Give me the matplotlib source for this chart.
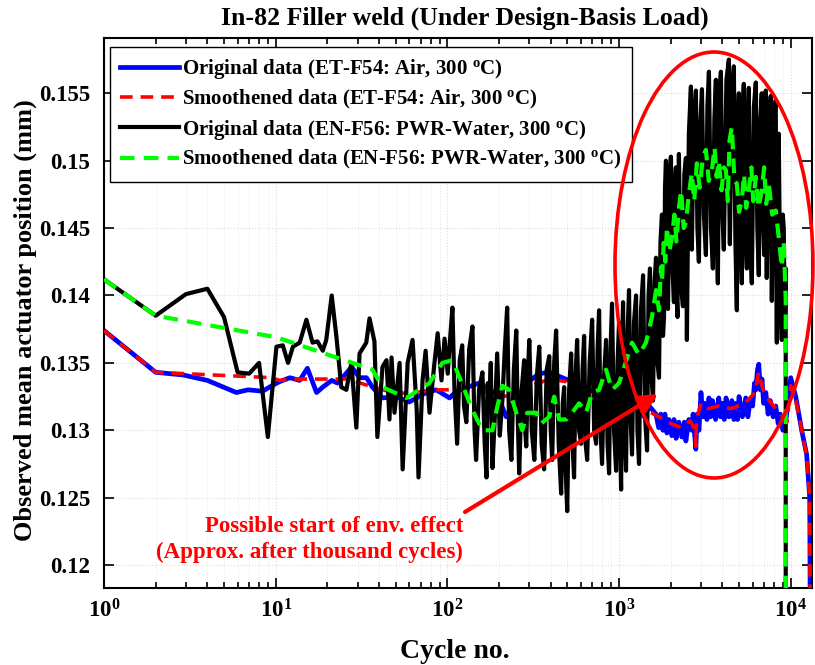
import matplotlib
matplotlib.use('Agg')
import matplotlib.pyplot as plt
from matplotlib.patches import Ellipse
from matplotlib.ticker import LogLocator, LogFormatterMathtext, NullFormatter, FixedLocator

plt.rcParams['font.family'] = ['Liberation Serif', 'DejaVu Serif']
plt.rcParams['font.weight'] = 'bold'
plt.rcParams['mathtext.fontset'] = 'custom'
plt.rcParams['mathtext.rm'] = 'Liberation Serif:bold'
plt.rcParams['mathtext.bf'] = 'Liberation Serif:bold'
plt.rcParams['mathtext.it'] = 'Liberation Serif:bold:italic'

# ---------------- data ----------------
air_cyc = [1, 2, 2.9, 4, 5.9, 6.9, 8.4, 9.2, 10.5, 12.1, 13.8, 15.3, 17.3, 18.8, 21.2, 22.9,
           24.5, 27.7, 30.8, 33.8, 36.6, 41.9, 50.5, 60, 75.5, 86, 103, 113, 153, 175, 195,
           220, 252, 288, 343, 392, 448, 533, 670, 875, 1070, 1310, 1400, 1500, 1640, 1700,
           1750, 1800, 1850, 1900, 1950, 2030, 2090, 2150, 2230, 2320, 2400, 2450, 2550, 2650,
           2700, 2750, 2800, 2850, 2920, 3000, 3080, 3150, 3250, 3340, 3420, 3500, 3650, 3810,
           3900, 4000, 4100, 4200, 4370, 4540, 4670, 4800, 4900, 5000, 5230, 5470, 5630, 5800,
           6000, 6150, 6260, 6400, 6515, 6650, 6800, 6950, 7160, 7380, 7600, 7900, 8180, 8450,
           8700, 9000, 9350, 10000, 10690, 11580, 12380, 12900, 13000]
air_pos = [0.1374, 0.1343, 0.1341, 0.1337, 0.1328, 0.1330, 0.1329, 0.1332, 0.1336, 0.1339,
           0.1337, 0.1346, 0.1328, 0.1332, 0.1337, 0.1335, 0.1339, 0.1347, 0.1339, 0.1339,
           0.1332, 0.1324, 0.1325, 0.1321, 0.1328, 0.1330, 0.1324, 0.1329, 0.1335, 0.1330,
           0.1327, 0.1310, 0.1322, 0.1335, 0.1342, 0.1343, 0.1340, 0.1336, 0.1330, 0.1325,
           0.1322, 0.1318, 0.1310, 0.1318, 0.1312, 0.1302, 0.1312, 0.1300, 0.1312, 0.1298,
           0.1308, 0.1296, 0.1308, 0.1294, 0.1306, 0.1295, 0.1306, 0.1292, 0.1308, 0.1300,
           0.1312, 0.1298, 0.1286, 0.1312, 0.1300, 0.1328, 0.1310, 0.1320, 0.1308, 0.1324,
           0.1310, 0.1322, 0.1308, 0.1324, 0.1310, 0.1320, 0.1308, 0.1324, 0.1310, 0.1322,
           0.1308, 0.1320, 0.1308, 0.1325, 0.1310, 0.1324, 0.1310, 0.1322, 0.1318, 0.1335,
           0.1330, 0.1345, 0.1349, 0.1330, 0.1338, 0.1320, 0.1328, 0.1312, 0.1322, 0.1310,
           0.1318, 0.1305, 0.1312, 0.1300, 0.1306, 0.1339, 0.1325, 0.1300, 0.1282, 0.1250,
           0.1150]

air_s_cyc = [1, 2, 9.5, 10.5, 13, 18, 26, 35, 45, 60, 80, 100, 150, 200, 250, 300, 400, 550,
             800, 1100, 1400, 1700, 2000, 2300, 2600, 2780, 2800, 2830, 3000, 3300, 3800, 4500,
             5400, 6200, 6500, 6900, 7500, 8200, 9000, 9500, 10000, 10700, 11600, 12400, 12900,
             13000]
air_s_pos = [0.1374, 0.1343, 0.1339, 0.1337, 0.1338, 0.1338, 0.1338, 0.1333, 0.1329, 0.1327,
             0.1330, 0.1330, 0.1331, 0.1325, 0.1326, 0.1333, 0.1338, 0.1335, 0.1328, 0.1322,
             0.1316, 0.1310, 0.1305, 0.1302, 0.1307, 0.1300, 0.1288, 0.1308, 0.1320, 0.1316,
             0.1318, 0.1316, 0.1320, 0.1328, 0.1343, 0.1330, 0.1322, 0.1316, 0.1310, 0.1306,
             0.1333, 0.1322, 0.1300, 0.1280, 0.1250, 0.1150]

water_cyc = [1, 2, 3, 4, 5, 6, 7, 8, 9, 10.1, 11, 11.8, 12.6, 13.8, 15.1, 16.4, 17.5, 18.8,
             19.7, 21.2, 22.6, 24.1, 25.8, 27.6, 29.5, 30.8, 33.7, 35.2, 37.6, 39.1, 41.9,
             44.2, 46, 47.3, 49.2, 52.7, 54.9, 58.7, 62.7, 66.3, 67.9, 71.7, 74.7, 78.7, 84.1,
             87.8, 92.4, 96.3, 100.5,
             104, 107, 110, 114, 118, 122, 125, 129, 134, 140, 144, 147, 153, 160, 165, 169,
             172, 175, 179, 183, 189, 195, 202, 209, 216, 223, 229, 236, 244, 252, 257, 262,
             271, 280, 284, 288, 294, 300, 310, 321, 332, 343, 354, 366, 379, 392, 400, 408,
             419, 430, 445, 460, 470, 479, 489, 499, 512, 526, 536, 547, 558, 570, 585, 601,
             613, 626, 639, 652, 674, 697, 716, 735, 750, 765, 780, 796, 818, 840, 857, 875,
             892, 910, 935, 961, 980, 1000,
             1014, 1028, 1041, 1055, 1076, 1098, 1120, 1143, 1166, 1190, 1222, 1256, 1280,
             1307, 1343, 1380, 1417, 1456, 1485, 1514, 1545, 1577, 1610, 1642, 1675, 1709,
             1743, 1778, 1803, 1828, 1852, 1876, 1902, 1928, 1966, 2005, 2046, 2088, 2115,
             2143, 2166, 2190, 2210, 2232, 2290, 2355, 2400, 2452, 2468, 2484, 2550, 2622,
             2640, 2653, 2730, 2803, 2860, 2917, 2980, 3040, 3120, 3206, 3270, 3338, 3430,
             3520, 3590, 3664, 3710, 3763, 3840, 3920, 4000, 4077, 4220, 4362, 4390, 4420,
             4540, 4663, 4760, 4854, 4920, 4985, 5090, 5190, 5260, 5329, 5440, 5550, 5620,
             5697, 5810, 5933, 6100, 6262, 6390, 6515, 6650, 6779, 6890, 7000, 7080, 7156,
             7200, 7250, 7450, 7650, 7700, 7760, 7970, 8180, 8240, 8300, 8410, 8515, 8690,
             8870, 8990, 9106, 9230, 9350, 9355]
water_pos = [0.1412, 0.1385, 0.1401, 0.1405, 0.1384, 0.1343, 0.1342, 0.1350, 0.1295, 0.1362,
             0.1363, 0.1350, 0.1362, 0.1365, 0.1382, 0.1365, 0.1366, 0.1359, 0.1367, 0.1400,
             0.1369, 0.1332, 0.1330, 0.1350, 0.1302, 0.1357, 0.1365, 0.1383, 0.1366, 0.1295,
             0.1347, 0.1352, 0.1308, 0.1354, 0.1313, 0.1350, 0.1271, 0.1350, 0.1367, 0.1315,
             0.1265, 0.1337, 0.1359, 0.1313, 0.1350, 0.1372, 0.1337, 0.1368, 0.1342,
             0.1370, 0.1391, 0.1330, 0.1290, 0.1352, 0.1363, 0.1318, 0.1306, 0.1360, 0.1377,
             0.1300, 0.1278, 0.1330, 0.1343, 0.1290, 0.1265, 0.1335, 0.1317, 0.1350, 0.1272,
             0.1310, 0.1357, 0.1296, 0.1322, 0.1360, 0.1391, 0.1300, 0.1278, 0.1345, 0.1374,
             0.1310, 0.1268, 0.1330, 0.1352, 0.1300, 0.1288, 0.1340, 0.1367, 0.1300, 0.1278,
             0.1340, 0.1362, 0.1290, 0.1271, 0.1345, 0.1355, 0.1300, 0.1278, 0.1350, 0.1374,
             0.1290, 0.1253, 0.1320, 0.1332, 0.1270, 0.1240, 0.1330, 0.1357, 0.1290, 0.1265,
             0.1340, 0.1367, 0.1300, 0.1290, 0.1345, 0.1370, 0.1290, 0.1278, 0.1350, 0.1382,
             0.1300, 0.1290, 0.1360, 0.1389, 0.1300, 0.1275, 0.1340, 0.1367, 0.1290, 0.1268,
             0.1360, 0.1394, 0.1300, 0.1270, 0.1350, 0.1380,
             0.1290, 0.1256, 0.1360, 0.1395, 0.1300, 0.1270, 0.1370, 0.1404, 0.1310, 0.1282,
             0.1380, 0.1400, 0.1300, 0.1275, 0.1390, 0.1415, 0.1310, 0.1285, 0.1400, 0.1420,
             0.1340, 0.1322, 0.1410, 0.1428, 0.1350, 0.1339, 0.1440, 0.1460, 0.1370, 0.1384,
             0.1480, 0.1500, 0.1400, 0.1390, 0.1490, 0.1503, 0.1420, 0.1395, 0.1480, 0.1495,
             0.1400, 0.1384, 0.1470, 0.1505, 0.1410, 0.1392, 0.1490, 0.1502, 0.1420, 0.1367,
             0.1520, 0.1555, 0.1460, 0.1434, 0.1530, 0.1552, 0.1450, 0.1425, 0.1530, 0.1553,
             0.1460, 0.1430, 0.1540, 0.1566, 0.1450, 0.1420, 0.1530, 0.1560, 0.1440, 0.1409,
             0.1550, 0.1566, 0.1460, 0.1434, 0.1560, 0.1575, 0.1470, 0.1438, 0.1550, 0.1570,
             0.1440, 0.1389, 0.1530, 0.1550, 0.1450, 0.1409, 0.1540, 0.1557, 0.1450, 0.1420,
             0.1530, 0.1554, 0.1440, 0.1409, 0.1540, 0.1558, 0.1450, 0.1415, 0.1530, 0.1550,
             0.1460, 0.1430, 0.1540, 0.1552, 0.1450, 0.1413, 0.1530, 0.1548, 0.1440, 0.1396,
             0.1530, 0.1545, 0.1420, 0.1365, 0.1500, 0.1520, 0.1400, 0.1367, 0.1460, 0.1450,
             0.1380, 0.1420, 0.1100]

water_s_cyc = [1, 2, 10.1, 36.6, 41.9, 57.8, 78.6, 93.6, 107, 117, 140, 160, 183, 195, 209,
               229, 252, 273, 292, 329, 352, 392, 419, 448, 492, 533, 585, 643, 697, 765, 840,
               910, 1000, 1190, 1307, 1435, 1555, 1642, 1709, 1754, 1778, 1820, 1860, 1901,
               1960, 2033, 2100, 2160, 2232, 2300, 2380, 2452, 2550, 2653, 2740, 2838, 2950,
               3080, 3206, 3330, 3474, 3600, 3700, 3813, 3950, 4080, 4190, 4300, 4400, 4538,
               4700, 4854, 5000, 5190, 5350, 5500, 5697, 5900, 6050, 6262, 6500, 6779, 7000,
               7200, 7447, 7800, 8180, 8515, 8870, 9100, 9350, 9355]
water_s_pos = [0.1412, 0.1385, 0.1369, 0.1345, 0.1332, 0.1324, 0.1335, 0.1350, 0.1352,
               0.1340, 0.1315, 0.1300, 0.1300, 0.1317, 0.1333, 0.1330, 0.1313, 0.1300, 0.1313,
               0.1313, 0.1305, 0.1310, 0.1325, 0.1308, 0.1308, 0.1313, 0.1320, 0.1313, 0.1328,
               0.1330, 0.1345, 0.1330, 0.1335, 0.1365, 0.1356, 0.1365, 0.1384, 0.1404, 0.1389,
               0.1421, 0.1410, 0.1439, 0.1425, 0.1451, 0.1432, 0.1443, 0.1460, 0.1440, 0.1465,
               0.1478, 0.1450, 0.1454, 0.1475, 0.1491, 0.1470, 0.1498, 0.1480, 0.1503, 0.1508,
               0.1485, 0.1493, 0.1510, 0.1488, 0.1500, 0.1478, 0.1495, 0.1493, 0.1470, 0.1515,
               0.1525, 0.1485, 0.1483, 0.1462, 0.1471, 0.1490, 0.1465, 0.1478, 0.1495, 0.1470,
               0.1488, 0.1465, 0.1478, 0.1495, 0.1468, 0.1483, 0.1460, 0.1463, 0.1443, 0.1421,
               0.1440, 0.1397, 0.1100]

ytick_vals = [0.12, 0.125, 0.13, 0.135, 0.14, 0.145, 0.15, 0.155]
ytick_labels = ['0.12', '0.125', '0.13', '0.135', '0.14', '0.145', '0.15', '0.155']

labels = ['Original data (ET-F54: Air, 300 $^\\mathdefault{o}$C)',
          'Smoothened data (ET-F54: Air, 300 $^\\mathdefault{o}$C)',
          'Original data (EN-F56: PWR-Water, 300 $^\\mathdefault{o}$C)',
          'Smoothened data (EN-F56: PWR-Water, 300 $^\\mathdefault{o}$C)']

# ---------------- figure ----------------
W, H = 815, 665
fig = plt.figure(figsize=(W / 100, H / 100), dpi=100)
ax = fig.add_axes([104 / W, 1 - 588 / H, 708 / W, 550 / H])

ax.plot(air_cyc, air_pos, color='#0000ff', lw=3.4, label=labels[0], zorder=2)
ax.plot(air_s_cyc, air_s_pos, color='#ff0000', lw=2.6, ls=(0, (3.5, 2.2)), label=labels[1], zorder=3)
ax.plot(water_cyc, water_pos, color='black', lw=3.0, label=labels[2], zorder=4)
ax.plot(water_s_cyc, water_s_pos, color='#00ff00', lw=3.0, ls=(0, (3.5, 2.2)), label=labels[3], zorder=5)

ax.set_xscale('log')
ax.set_xlim(1, 13300)
ax.set_ylim(0.1183, 0.1591)
ax.xaxis.set_major_locator(LogLocator(base=10, numticks=10))
ax.xaxis.set_minor_locator(LogLocator(base=10, subs=range(2, 10), numticks=20))
ax.xaxis.set_major_formatter(LogFormatterMathtext())
ax.xaxis.set_minor_formatter(NullFormatter())
ax.yaxis.set_major_locator(FixedLocator(ytick_vals))
ax.set_yticklabels(ytick_labels)

ax.grid(True, which='major', color='#dcdcdc', ls=':', lw=0.8)
ax.grid(True, which='minor', axis='x', color='#e6e6e6', ls=':', lw=0.7)
ax.set_axisbelow(True)

ax.tick_params(which='both', direction='in', top=True, right=True, width=1.2, labelsize=16.5)
ax.tick_params(which='major', length=7)
ax.tick_params(which='minor', length=4)
ax.tick_params(axis='x', pad=8)
ax.tick_params(axis='y', pad=10)
for s in ax.spines.values():
    s.set_linewidth(1.5)

leg = ax.legend(loc='upper left', bbox_to_anchor=(6 / 708, 1 - 9 / 550), fancybox=False,
                edgecolor='black', framealpha=1, fontsize=15, handlelength=2.8,
                handletextpad=0.15, labelspacing=0.32, borderpad=0.5, borderaxespad=0)
leg.get_frame().set_linewidth(1.0)

fig.text(465 / W, 1 - 18 / H, 'In-82 Filler weld (Under Design-Basis Load)', ha='center',
         va='center', fontsize=18.5, weight='bold')
fig.text(455 / W, 1 - 652 / H, 'Cycle no.', ha='center', va='center', fontsize=20, weight='bold')
fig.text(25 / W, 1 - 320 / H, 'Observed mean actuator position (mm)', ha='center', va='center',
         rotation=90, fontsize=19, weight='bold')

# annotations
ell = Ellipse((714 / W, 1 - 265 / H), 198 / W, 426 / H, transform=fig.transFigure,
              fill=False, edgecolor='#ff0000', lw=2.6, zorder=10)
fig.add_artist(ell)
ax.annotate('', xy=(658 / W, 1 - 394 / H), xycoords='figure fraction',
            xytext=(465 / W, 1 - 512 / H), textcoords='figure fraction',
            arrowprops=dict(arrowstyle='-|>', color='#ff0000', lw=3, mutation_scale=28,
                            shrinkA=0, shrinkB=0), zorder=11)
fig.text(463 / W, 1 - 527 / H, 'Possible start of env. effect', ha='right', va='center',
         color='#ff0000', fontsize=16.5, weight='bold')
fig.text(463 / W, 1 - 552 / H, '(Approx. after thousand cycles)', ha='right', va='center',
         color='#ff0000', fontsize=16.5, weight='bold')

fig.savefig('out.png', dpi=100)
